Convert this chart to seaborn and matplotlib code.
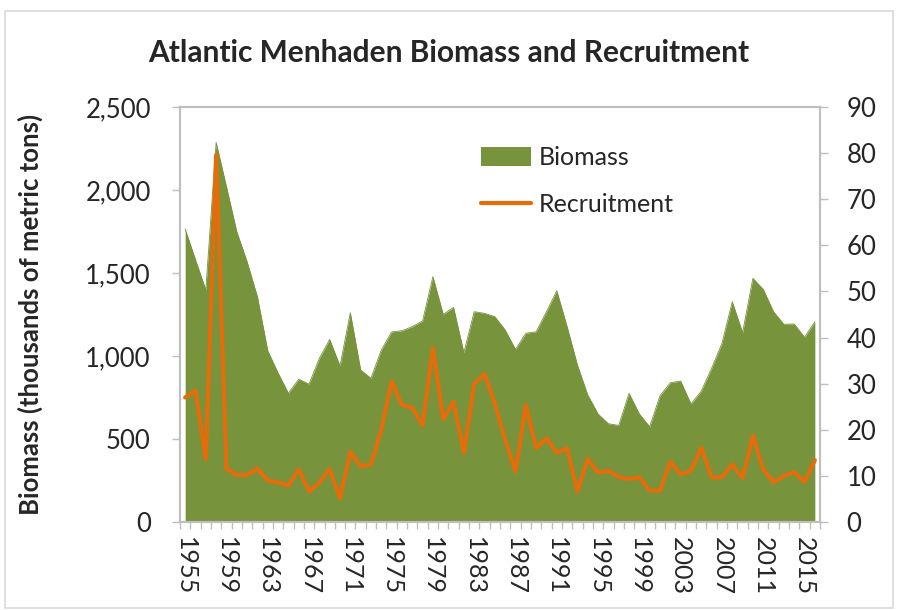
import matplotlib
matplotlib.use("Agg")
import matplotlib.pyplot as plt
import seaborn as sns
import pandas as pd
import numpy as np
from matplotlib.patches import Rectangle, Patch
from matplotlib.lines import Line2D
from matplotlib.ticker import FuncFormatter, FixedLocator

years = list(range(1955, 2017))
biomass = [1765, 1580, 1398, 2287, 2020, 1749, 1568, 1357, 1032, 898,
           776, 860, 831, 986, 1100, 940, 1261, 916, 866, 1036,
           1145, 1152, 1177, 1211, 1478, 1251, 1293, 1020, 1267, 1257,
           1237, 1157, 1040, 1137, 1146, 1267, 1393, 1177, 946, 765,
           651, 592, 582, 775, 651, 574, 761, 839, 849, 711,
           789, 926, 1076, 1327, 1141, 1468, 1402, 1267, 1191, 1193,
           1113, 1207]
recruitment = [27.0, 28.5, 13.6, 79.6, 11.6, 10.2, 10.2, 11.6, 9.0, 8.6,
               7.9, 11.4, 6.6, 8.5, 11.5, 5.1, 15.2, 12.1, 12.5, 20.0,
               30.5, 25.4, 24.8, 21.0, 37.7, 22.3, 26.1, 15.0, 29.9, 32.1,
               25.7, 17.8, 10.9, 25.4, 16.0, 18.2, 15.0, 16.0, 6.6, 13.7,
               10.7, 11.1, 9.8, 9.3, 9.7, 6.8, 6.8, 13.1, 10.3, 11.1,
               16.1, 9.7, 9.7, 12.5, 9.5, 18.7, 11.4, 8.6, 10.0, 10.8,
               8.7, 13.4]

title = "Atlantic Menhaden Biomass and Recruitment"
ylabel = "Biomass (thousands of metric tons)"
tick_years = list(range(1955, 2017, 4))

GREEN = "#77933C"
ORANGE = "#E46C0A"
GRAY = "#BFBFBF"

sns.set_theme(style="white")
plt.rcParams["font.family"] = ["Lato", "DejaVu Sans"]

df = pd.DataFrame({"year": years, "biomass": biomass, "recruitment": recruitment})
df["idx"] = np.arange(len(df))

fig = plt.figure(figsize=(8.98, 6.10), dpi=100)
ax = fig.add_axes([180 / 898, 1 - 522 / 610, 640 / 898, 415 / 610])

ax.fill_between(df["idx"], 0, df["biomass"], color=GREEN, linewidth=0, zorder=2)
sns.lineplot(data=df, x="idx", y="biomass", ax=ax, color=GREEN, linewidth=0.6, zorder=2)

ax.set_xlim(-0.5, len(df) - 0.5)
ax.set_ylim(0, 2500)
ax.set_yticks([0, 500, 1000, 1500, 2000, 2500])
ax.yaxis.set_major_formatter(FuncFormatter(lambda v, p: f"{int(v):,}"))
tick_pos = [years.index(y) for y in tick_years]
ax.set_xticks(tick_pos)
ax.set_xticklabels([str(y) for y in tick_years], rotation=-90, fontsize=18)
ax.xaxis.set_minor_locator(FixedLocator(np.arange(-0.5, len(df), 1.0)))
ax.tick_params(axis="x", which="major", length=0, pad=11)
ax.tick_params(axis="x", which="minor", length=5, color=GRAY, width=1, bottom=True)
ax.tick_params(axis="y", which="major", length=6, color=GRAY, width=1, labelsize=18.5, pad=15, left=True)
ax.set_xlabel("")
ax.set_ylabel(ylabel, fontsize=18.5, fontweight="bold")
ax.yaxis.set_label_coords((43 - 180) / 640, 0.5)

for s in ["left", "bottom", "top", "right"]:
    ax.spines[s].set_color(GRAY)
    ax.spines[s].set_linewidth(1.5)
    ax.spines[s].set_visible(True)

ax2 = ax.twinx()
sns.lineplot(data=df, x="idx", y="recruitment", ax=ax2, color=ORANGE, linewidth=3.0, zorder=3)
ax2.set_ylim(0, 90)
ax2.set_yticks(range(0, 91, 10))
ax2.set_ylabel("")
ax2.tick_params(axis="y", which="major", length=6, color=GRAY, width=1, labelsize=18.5, pad=13, right=True)
for s in ["left", "bottom", "top", "right"]:
    ax2.spines[s].set_color(GRAY)
    ax2.spines[s].set_linewidth(1.5)
ax2.set_xlim(-0.5, len(df) - 0.5)

handles = [Patch(facecolor=GREEN, edgecolor="none"),
           Line2D([0], [0], color=ORANGE, linewidth=3.0)]
leg = ax2.legend(handles, ["Biomass", "Recruitment"], loc="upper left",
                 bbox_to_anchor=(0.435, 0.96), frameon=False, fontsize=18,
                 handlelength=2.0, handleheight=0.75, labelspacing=0.95, handletextpad=0.3)

fig.text(0.5, 1 - 53 / 610, title, ha="center", va="center", fontsize=21.5, fontweight="bold")

fig.patches.append(Rectangle((5 / 898, 2 / 610), 888 / 898, 597 / 610, transform=fig.transFigure,
                             fill=False, edgecolor="#D9D9D9", linewidth=1.2))

fig.savefig("out.png", dpi=100)
